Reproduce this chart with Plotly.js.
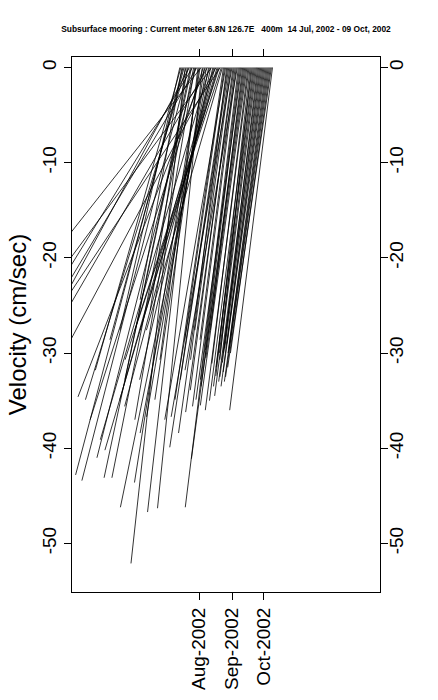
<!DOCTYPE html>
<html><head><meta charset="utf-8">
<script src="https://cdn.plot.ly/plotly-3.0.1.min.js"></script>
<style>html,body{margin:0;padding:0;background:#fff}</style>
</head><body><div id="chart" style="width:438px;height:700px"></div>
<script>
const titleText = 'Subsurface mooring : Current meter 6.8N 126.7E\u00a0\u00a0\u00a0400m\u00a0\u00a014 Jul, 2002 - 09 Oct, 2002';
const yTitleText = 'Velocity (cm/sec)';
const firstDay = '2002-07-14';
// eastward (u) and northward (v) components, cm/sec, one per day from 14 Jul 2002
const uSpeed = [
 -6.3,-9.0,-4.4,-11.3,-7.8,-5.7,-10.6,-3.9,-11.2,-13.6,
 -6.9,-9.2,-15.0,-8.6,-6.3,-10.4,-16.5,-5.3,-4.1,-6.9,
 -15.8,-4.7,-11.9,-5.2,-13.4,-6.3,-16.0,-7.2,-11.5,-9.5,
 -18.1,-7.7,-9.9,-9.5,-16.4,-11.8,-8.2,-9.9,-18.4,-9.1,
 -8.0,-5.1,-4.2,-6.4,-3.8,-6.1,-5.1,-5.4,-3.8,-6.4,
 -4.5,-5.1,-3.7,-4.6,-5.5,-4.0,-5.7,-3.7,-4.8,-3.4,
 -5.5,-4.6,-4.2,-4.9,-3.8,-4.6,-3.6,-3.3,-4.5,-3.9,
 -4.3,-3.8,-4.4,-3.7,-4.2,-3.8,-4.3,-3.9,-4.4,-3.9,
 -4.4,-4.0,-4.5,-4.1,-4.6,-4.2,-4.6,-4.5];
const vSpeed = [
 -27.6,-31.8,-24.4,-42.8,-28.6,-52.1,-34.9,-25.5,-43.4,-25.0,
 -32.8,-43.1,-24.4,-43.1,-37.0,-41.0,-27.6,-46.7,-30.7,-43.6,
 -20.0,-46.3,-37.0,-34.9,-34.6,-36.7,-27.6,-38.4,-39.1,-46.2,
 -24.4,-32.8,-34.9,-35.6,-30.7,-40.2,-27.6,-30.7,-27.6,-27.6,
 -27.6,-34.9,-28.6,-37.0,-30.7,-39.9,-32.8,-38.4,-27.6,-36.7,
 -33.9,-36.2,-28.6,-35.6,-31.8,-32.8,-46.2,-29.7,-34.9,-27.6,
 -41.1,-33.5,-30.5,-35.5,-31.1,-36.0,-32.4,-30.7,-35.0,-31.5,
 -33.5,-30.0,-34.5,-31.0,-33.0,-30.0,-32.5,-29.5,-33.5,-29.0,
 -32.0,-30.0,-33.0,-29.5,-32.5,-30.0,-31.5,-36.0];
const xTickVals = ['2002-08-01','2002-09-01','2002-10-01'];
const xTickText = ['Aug-2002','Sep-2002','Oct-2002'];
const yTickVals = [0,-10,-20,-30,-40,-50];
const yTickText = ['0','-10','-20','-30','-40','-50'];

const DAY_MS = 86400000;
const DAYS_PER_CMS = 8.93; // horizontal stick scale so 1 cm/sec spans the same length on both axes

function fmt(ms){
  const d = new Date(ms);
  const p = n => String(n).padStart(2,'0');
  return d.getUTCFullYear()+'-'+p(d.getUTCMonth()+1)+'-'+p(d.getUTCDate())+' '+
         p(d.getUTCHours())+':'+p(d.getUTCMinutes())+':'+p(d.getUTCSeconds());
}
const t0 = Date.parse(firstDay + 'T00:00:00Z');
const xs = [], ys = [];
uSpeed.forEach((u, i) => {
  const ts = t0 + i * DAY_MS;
  xs.push(fmt(ts), fmt(ts + u * DAYS_PER_CMS * DAY_MS), null);
  ys.push(0, vSpeed[i], null);
});

const FONT = 'Liberation Sans, Arial, Helvetica, sans-serif';
const traces = [
  {type:'scatter', mode:'lines', x:xs, y:ys, connectgaps:false,
   line:{color:'#000', width:0.8}, hoverinfo:'skip', showlegend:false},
  {type:'scatter', mode:'markers', x:[xTickVals[0]], y:[0], yaxis:'y2',
   marker:{opacity:0}, hoverinfo:'skip', showlegend:false}
];
const axisRange = [-55.1, 1.1];
const layout = {
  width:438, height:700,
  margin:{l:72, r:58, t:57, b:108},
  paper_bgcolor:'#fff', plot_bgcolor:'#fff',
  showlegend:false,
  font:{family:FONT, color:'#000'},
  title:{text:'<b>'+titleText+'</b>', font:{family:FONT, size:8.4, color:'#000'},
         x:0.5, xref:'paper', y:1-29/700, yref:'container', yanchor:'middle', xanchor:'center'},
  xaxis:{type:'date', range:['2002-04-03 17:00','2003-01-18 00:00'],
         tickvals:xTickVals, ticktext:xTickText, tickangle:-90,
         ticks:'outside', ticklen:7, tickcolor:'#000', tickwidth:1,
         showline:true, linecolor:'#000', linewidth:1, mirror:'ticks',
         showgrid:false, zeroline:false, tickfont:{family:FONT, size:19, color:'#000'}},
  yaxis:{range:axisRange, tickvals:yTickVals, ticktext:yTickText, tickangle:-90,
         ticks:'outside', ticklen:7, tickcolor:'#000', tickwidth:1,
         showline:true, linecolor:'#000', linewidth:1, mirror:'ticks',
         showgrid:false, zeroline:false, tickfont:{family:FONT, size:19, color:'#000'},
         title:{text:yTitleText, font:{family:FONT, size:24, color:'#000'}, standoff:6}},
  yaxis2:{range:axisRange, overlaying:'y', side:'right', tickvals:yTickVals, ticktext:yTickText,
          tickangle:-90, ticks:'', ticklabelstandoff:3,
          showline:false, showgrid:false, zeroline:false,
          tickfont:{family:FONT, size:19, color:'#000'}}
};
Plotly.newPlot('chart', traces, layout, {displayModeBar:false, staticPlot:true});
</script>
</body></html>
